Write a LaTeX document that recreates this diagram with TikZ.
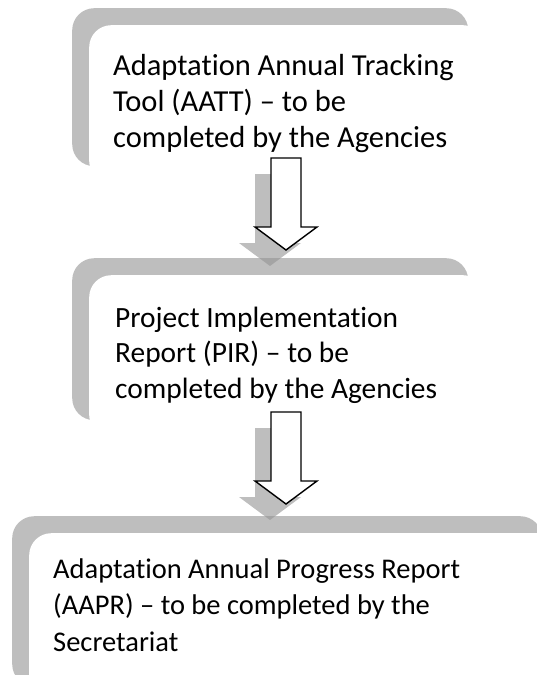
\documentclass[tikz,border=0pt]{standalone}
\usepackage{fontspec}
\setmainfont{Carlito}[Ligatures={TeX,NoCommon}]
\usetikzlibrary{shadows}
\definecolor{shadowgray}{RGB}{147,147,147}
\tikzset{
  stage/.style={fill=white, rounded corners=22pt, anchor=north west,
    minimum height=162pt, inner sep=0pt,
    drop shadow={shadow xshift=-17pt, shadow yshift=17pt,
      fill=shadowgray, opacity=0.6}},
  % anchored at the baseline of the last line
  stagetext/.style={anchor=base west, align=left, inner sep=0pt,
    font=\fontsize{28.5}{36.5}\selectfont},
  flow/.style={fill=white, draw=black, line width=1.4pt, line join=miter},
  flowshadow/.style={fill=shadowgray, opacity=0.6}
}
\begin{document}
\begin{tikzpicture}[x=1pt, y=-1pt]
  \useasboundingbox (0,0) rectangle (537,675);
  \clip (0,0) rectangle (537,675);
  % the three report stages
  \node[stage, minimum width=396pt, minimum height=158pt] (aatt) at (89,25) {};
  \node[stage, minimum width=396pt] (pir) at (89,275) {};
  \node[stage, minimum width=530pt, minimum height=170pt] (aapr) at (29,533) {};
  \node[stagetext, font=\fontsize{30.5}{36}\selectfont] (aatt-text) at (113,147)
    {Adaptation Annual Tracking\\Tool (AATT) -- to be\\completed by the Agencies};
  \node[stagetext, font=\fontsize{29.4}{35.5}\selectfont] (pir-text) at (115,398)
    {Project Implementation\\Report (PIR) -- to be\\completed by the Agencies};
  \node[stagetext] (aapr-text) at (53,651)
    {Adaptation Annual Progress Report\\(AAPR) -- to be completed by the\\Secretariat};
  % block arrows between the stages
  \foreach \t in {158,412} {
    \fill[flowshadow] (255,\t+16) -- (285,\t+16) -- (285,\t+85) -- (301,\t+85)
      -- (270,\t+108) -- (239,\t+85) -- (255,\t+85) -- cycle;
    \draw[flow] (271,\t) -- (301,\t) -- (301,\t+69) -- (317,\t+69)
      -- (286,\t+92) -- (255,\t+69) -- (271,\t+69) -- cycle;
  }
\end{tikzpicture}
\end{document}
